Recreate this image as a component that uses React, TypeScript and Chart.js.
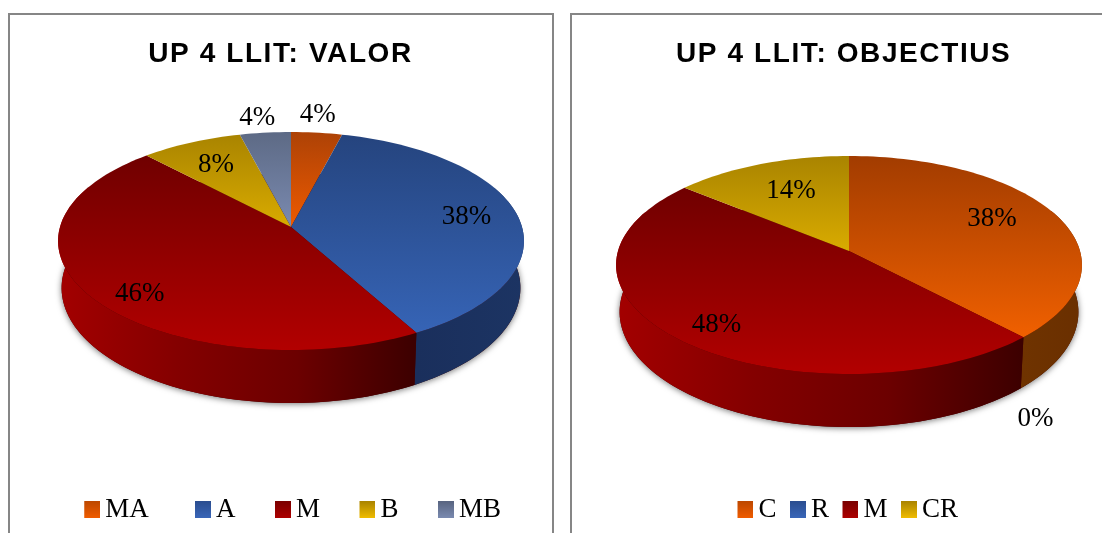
import React, { useEffect, useRef } from "react";
import { Chart, registerables, PieController, ArcElement } from "chart.js";

// ---- data ----
const valorLabels = ["MA", "A", "M", "B", "MB"];
const valorValues = [4, 38, 46, 8, 4];
const objectiusLabels = ["C", "R", "M", "CR"];
const objectiusValues = [38, 0, 48, 14];

// ---- styles ----
const redWall = ["#a30000", "#840000", "#6c0000", "#3c0000"];
const valorFace = [["#ad4206", "#ee5a00"], ["#25447e", "#3664b6"], ["#700000", "#b20000"], ["#a98400", "#d9ab00"], ["#5d6a85", "#7a8ab0"]];
const valorWall = [["#6f3300", "#6a2f00"], ["#1a2f5c", "#1c3463"], redWall, ["#6b5300", "#6b5300"], ["#3c4558", "#3c4558"]];
const objectiusFace = [["#a23c00", "#f06000"], ["#25447e", "#3664b6"], ["#700000", "#b20000"], ["#a98400", "#d9ab00"]];
const objectiusWall = [["#6f3300", "#6a2f00"], ["#1a2f5c", "#1c3463"], redWall, ["#6b5300", "#6b5300"]];
const valorSwatch = [["#bd4800", "#f05c00"], ["#2a4d8f", "#3a66b8"], ["#7a0000", "#ad0000"], ["#a98300", "#f0bc00"], ["#586480", "#7a8ab0"]];
const objectiusSwatch = [["#bd4800", "#f05c00"], ["#2a4d8f", "#3a66b8"], ["#7a0000", "#ad0000"], ["#a98300", "#f0bc00"]];
const valorLabelNudge = [[1, -18], [-50, 3], [51, -1], [25, 22], [-8, -15]];
const objectiusLabelNudge = [[-62, 6], [12, 82], [42, -12], [30, 27]];

const SERIF = "'Liberation Serif', serif";
const TILT = { k: 0.1284, a: 231, aLow: 227.5, b: 107.2, depth: 46.2 };

type Geo = { cx: number; cy: number };

function project(g: Geo, theta: number, lower: boolean) {
  const d = 1 + TILT.k * Math.cos(theta);
  return {
    x: g.cx + ((lower ? TILT.aLow : TILT.a) * Math.sin(theta)) / d,
    y: g.cy + (-TILT.b * Math.cos(theta) + (lower ? TILT.depth : 0)) / d,
  };
}

function sample(a: number, b: number) {
  const n = Math.max(2, Math.ceil((b - a) / 0.03));
  const out: number[] = [];
  for (let i = 0; i <= n; i++) out.push(a + ((b - a) * i) / n);
  return out;
}

class Arc3D extends ArcElement {
  static id = "arc3d";

  thetas() {
    const s: any = this;
    return [s.startAngle + Math.PI / 2, s.endAngle + Math.PI / 2];
  }

  paintWall(ctx: CanvasRenderingContext2D, g: Geo, colors: string[]) {
    const [a, b] = this.thetas();
    if (b - a < 1e-4) return;
    const ts = sample(a, b).filter((t) => Math.cos(t) < 0.4);
    if (ts.length < 2) return;
    const up = ts.map((t) => project(g, t, false));
    const lo = ts.map((t) => project(g, t, true));
    const xs = up.map((p) => p.x);
    const grad = ctx.createLinearGradient(Math.min(...xs), 0, Math.max(...xs), 0);
    colors.forEach((c, i) => grad.addColorStop(i / (colors.length - 1), c));
    ctx.fillStyle = grad;
    ctx.beginPath();
    up.forEach((p, i) => (i ? ctx.lineTo(p.x, p.y) : ctx.moveTo(p.x, p.y)));
    lo.reverse().forEach((p) => ctx.lineTo(p.x, p.y));
    ctx.closePath();
    ctx.fill();
  }

  paintFace(ctx: CanvasRenderingContext2D, g: Geo, colors: string[]) {
    const [a, b] = this.thetas();
    if (b - a < 1e-4) return;
    const rim = sample(a, b).map((t) => project(g, t, false));
    const ys = rim.map((p) => p.y).concat(g.cy);
    const grad = ctx.createLinearGradient(0, Math.min(...ys), 0, Math.max(...ys));
    grad.addColorStop(0, colors[0]);
    grad.addColorStop(1, colors[1]);
    ctx.fillStyle = grad;
    ctx.beginPath();
    ctx.moveTo(g.cx, g.cy);
    rim.forEach((p) => ctx.lineTo(p.x, p.y));
    ctx.closePath();
    ctx.fill();
  }

  draw() {
    /* painted in two passes by Pie3D */
  }
}

class Pie3D extends PieController {
  static id = "pie3d";
  static defaults = { dataElementType: "arc3d" };

  draw() {
    const ctx = this.chart.ctx;
    const ds: any = this.getDataset();
    const g: Geo = ds.geo;
    const arcs = this.getMeta().data as unknown as Arc3D[];
    ctx.save();
    ctx.shadowColor = "rgba(0,0,0,0.55)";
    ctx.shadowBlur = 6;
    ctx.shadowOffsetY = 1;
    ctx.fillStyle = "#400000";
    ctx.beginPath();
    sample(0, Math.PI * 2).forEach((t, i) => {
      const p = project(g, t, true);
      i ? ctx.lineTo(p.x, p.y) : ctx.moveTo(p.x, p.y);
    });
    ctx.closePath();
    ctx.fill();
    ctx.restore();
    arcs.forEach((arc, i) => arc.paintWall(ctx, g, ds.wallColors[i]));
    arcs.forEach((arc, i) => arc.paintFace(ctx, g, ds.faceColors[i]));
  }
}

Chart.register(...registerables, Arc3D as any, Pie3D as any);

const percentLabels = {
  id: "percentLabels",
  afterDatasetsDraw(chart: any) {
    const ctx = chart.ctx;
    const ds = chart.data.datasets[0];
    const arcs = chart.getDatasetMeta(0).data;
    ctx.save();
    ctx.fillStyle = "#000";
    ctx.font = `27px ${SERIF}`;
    ctx.textAlign = "center";
    ctx.textBaseline = "middle";
    arcs.forEach((arc: any, i: number) => {
      const mid = (arc.startAngle + arc.endAngle) / 2 + Math.PI / 2;
      const p = project(ds.geo, mid, false);
      const [dx, dy] = ds.labelNudge[i];
      ctx.fillText(`${ds.data[i]}%`, p.x + dx, p.y + dy);
    });
    ctx.restore();
  },
};

const titleSpacing = {
  id: "titleSpacing",
  beforeDraw(chart: any) {
    const tb = chart.titleBlock;
    if (!tb || tb.__spaced) return;
    const orig = tb.draw.bind(tb);
    tb.draw = (...args: any[]) => {
      chart.ctx.save();
      chart.ctx.letterSpacing = "1.6px";
      orig(...args);
      chart.ctx.restore();
    };
    tb.__spaced = true;
  },
};

function swatch(colors: string[]) {
  const c = document.createElement("canvas");
  c.width = 25;
  c.height = 17;
  const x = c.getContext("2d")!;
  const g = x.createLinearGradient(0, 0, 0, 17);
  g.addColorStop(0, colors[0]);
  g.addColorStop(1, colors[1]);
  x.fillStyle = g;
  x.fillRect(9, 0, 16, 17);
  return c;
}

type PanelProps = {
  left: number; width: number; height: number; title: string; titleAlign: string; legendAlign: string;
  labels: string[]; values: number[]; face: string[][]; wall: string[][]; swatches: string[][];
  nudge: number[][]; geo: Geo; padL: number; padR: number; legendGap: number; trailing: number;
};

function Panel(p: PanelProps) {
  const ref = useRef<HTMLCanvasElement>(null);
  useEffect(() => {
    const chart = new Chart(ref.current!, {
      type: "pie3d" as any,
      data: {
        labels: p.labels,
        datasets: [{
          data: p.values,
          backgroundColor: p.swatches.map((s) => s[1]),
          borderWidth: 0,
          geo: p.geo, faceColors: p.face, wallColors: p.wall, labelNudge: p.nudge,
        } as any],
      },
      plugins: [percentLabels, titleSpacing],
      options: {
        responsive: false,
        animation: false,
        layout: { padding: { left: p.padL, right: p.padR } },
        plugins: {
          tooltip: { enabled: false },
          title: {
            display: true,
            text: p.title,
            align: p.titleAlign,
            color: "#000",
            font: { family: "'Liberation Sans', sans-serif", size: 28, weight: "bold" },
            padding: { top: 37, bottom: 10 },
          },
          legend: {
            position: "bottom",
            align: p.legendAlign,
            labels: {
              color: "#000",
              font: { family: SERIF, size: 27 },
              usePointStyle: true,
              boxWidth: 8,
              boxHeight: 17,
              padding: p.legendGap,
              generateLabels: (c: any) =>
                c.data.labels.map((text: string, i: number) => ({
                  text: i === 0 ? text + " ".repeat(p.trailing) : text,
                  pointStyle: swatch(p.swatches[i]),
                  fillStyle: p.swatches[i][1],
                  strokeStyle: "transparent",
                  lineWidth: 0,
                  fontColor: "#000",
                  hidden: false,
                  index: i,
                })),
            },
          },
        },
      } as any,
    });
    return () => chart.destroy();
  }, []);
  return (
    <canvas
      ref={ref}
      width={p.width}
      height={p.height}
      style={{ position: "absolute", left: p.left, top: 0, width: p.width, height: p.height, display: "block" }}
    />
  );
}

const rule = { position: "absolute", background: "#868686" } as const;

export default function App() {
  return (
    <div style={{ position: "fixed", left: 0, top: 0, width: 1102, height: 533, overflow: "hidden", background: "#fff" }}>
      <Panel
        left={0} width={560} height={533} title="UP 4 LLIT: VALOR" titleAlign="center" legendAlign="end"
        labels={valorLabels} values={valorValues} face={valorFace} wall={valorWall} swatches={valorSwatch}
        nudge={valorLabelNudge} geo={{ cx: 291, cy: 227 }} padL={21} padR={20} legendGap={39} trailing={1}
      />
      <Panel
        left={560} width={542} height={533} title="UP 4 LLIT: OBJECTIUS" titleAlign="start" legendAlign="center"
        labels={objectiusLabels} values={objectiusValues} face={objectiusFace} wall={objectiusWall} swatches={objectiusSwatch}
        nudge={objectiusLabelNudge} geo={{ cx: 289, cy: 251 }} padL={116} padR={83} legendGap={13} trailing={0}
      />
      <div style={{ ...rule, left: 8, top: 13, width: 546, height: 2 }} />
      <div style={{ ...rule, left: 8, top: 13, width: 2, height: 520 }} />
      <div style={{ ...rule, left: 552, top: 13, width: 2, height: 520 }} />
      <div style={{ ...rule, left: 570, top: 13, width: 532, height: 2 }} />
      <div style={{ ...rule, left: 570, top: 13, width: 2, height: 520 }} />
    </div>
  );
}
